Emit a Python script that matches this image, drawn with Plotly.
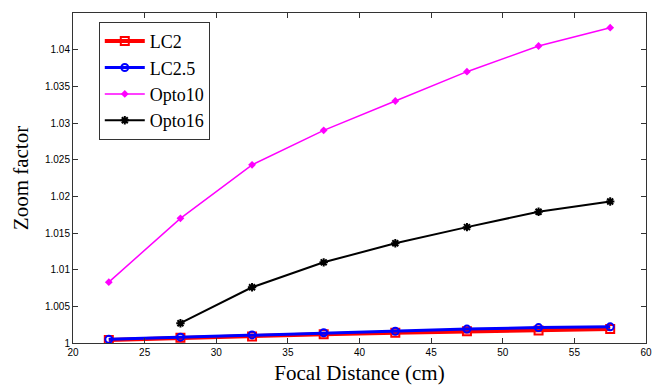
import plotly.graph_objects as go

x_all = [22.5, 27.5, 32.5, 37.5, 42.5, 47.5, 52.5, 57.5]
x_opto16 = [27.5, 32.5, 37.5, 42.5, 47.5, 52.5, 57.5]
lc2 = [1.0004, 1.0007, 1.0009, 1.0012, 1.0014, 1.0016, 1.0017, 1.0019]
lc25 = [1.0005, 1.0008, 1.0011, 1.0014, 1.0016, 1.0019, 1.0021, 1.0022]
opto10 = [1.0083, 1.0170, 1.0243, 1.0290, 1.0330, 1.0370, 1.0405, 1.0430]
opto16 = [1.0027, 1.0076, 1.0110, 1.0136, 1.0158, 1.0179, 1.0193]

x_ticks = [20, 25, 30, 35, 40, 45, 50, 55, 60]
y_ticks = [1, 1.005, 1.01, 1.015, 1.02, 1.025, 1.03, 1.035, 1.04, 1.045]
y_ticktext = ["1", "1.005", "1.01", "1.015", "1.02", "1.025", "1.03", "1.035", "1.04", "1.045"]

fig = go.Figure()
fig.add_trace(go.Scatter(x=x_all, y=lc2, name="LC2", mode="lines+markers",
                         line=dict(color="red", width=4),
                         marker=dict(symbol="square-open", size=8, color="red", line=dict(width=2))))
fig.add_trace(go.Scatter(x=x_all, y=lc25, name="LC2.5", mode="lines+markers",
                         line=dict(color="blue", width=3),
                         marker=dict(symbol="circle-open", size=7, color="blue", line=dict(width=2))))
fig.add_trace(go.Scatter(x=x_all, y=opto10, name="Opto10", mode="lines+markers",
                         line=dict(color="magenta", width=1.5),
                         marker=dict(symbol="diamond", size=6, color="magenta")))
fig.add_trace(go.Scatter(x=x_opto16, y=opto16, name="Opto16", mode="lines+markers",
                         line=dict(color="black", width=2),
                         marker=dict(symbol="asterisk-open", size=7, color="black", line=dict(width=2, color="black"))))

axis_common = dict(showgrid=False, zeroline=False, showline=True, linecolor="#333",
                   linewidth=1, mirror="ticks", ticks="inside", ticklen=5, tickcolor="#333",
                   automargin=False,
                   tickfont=dict(family="Liberation Sans, Arial", size=10, color="black"))

# page body has an 8px default margin, so the figure is sized/offset to compensate
fig.update_layout(
    width=654, height=384,
    margin=dict(l=65, r=16, t=5, b=49),
    paper_bgcolor="white", plot_bgcolor="white",
    xaxis=dict(range=[20, 60], tickvals=x_ticks,
               title=dict(text="Focal Distance (cm)", standoff=8,
                          font=dict(family="Liberation Serif, Times New Roman, serif", size=21, color="black")),
               **axis_common),
    yaxis=dict(range=[1, 1.045], tickvals=y_ticks, ticktext=y_ticktext,
               title=dict(text="Zoom factor", standoff=10,
                          font=dict(family="Liberation Serif, Times New Roman, serif", size=21, color="black")),
               **axis_common),
    legend=dict(x=0.045, y=0.973, xanchor="left", yanchor="top",
                bordercolor="#333", borderwidth=1, bgcolor="white",
                font=dict(family="Liberation Serif, Times New Roman, serif", size=18, color="black"),
                itemwidth=40, tracegroupgap=2),
    showlegend=True,
)

fig.write_html("out.html")
